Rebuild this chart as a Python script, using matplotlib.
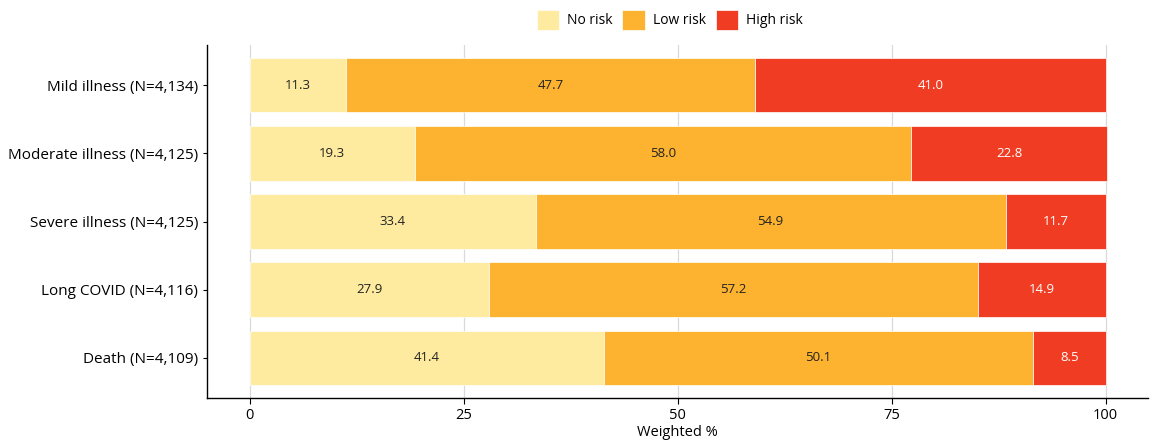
import matplotlib.pyplot as plt
import numpy as np

categories = ["Mild illness (N=4,134)", "Moderate illness (N=4,125)",
              "Severe illness (N=4,125)", "Long COVID (N=4,116)", "Death (N=4,109)"]
no_risk = [11.3, 19.3, 33.4, 27.9, 41.4]
low_risk = [47.7, 58.0, 54.9, 57.2, 50.1]
high_risk = [41.0, 22.8, 11.7, 14.9, 8.5]
series_names = ["No risk", "Low risk", "High risk"]
colors = ["#FEEB9F", "#FDB32F", "#F03C22"]
text_colors = ["#222222", "#222222", "white"]

plt.rcParams["font.family"] = ["Open Sans", "DejaVu Sans"]

fig = plt.figure(figsize=(11.51, 4.44), dpi=100)
ax = fig.add_axes([0.1798, 0.1036, 0.818, 0.795])

y = np.arange(len(categories))
left = np.zeros(len(categories))
for vals, name, c, tc in zip([no_risk, low_risk, high_risk], series_names, colors, text_colors):
    vals = np.array(vals)
    ax.barh(y, vals, left=left, height=0.8, color=c, label=name,
            edgecolor="white", linewidth=0.5, zorder=2)
    for yi, l, v in zip(y, left, vals):
        ax.text(l + v / 2, yi, f"{v:.1f}", ha="center", va="center",
                color=tc, fontsize=9.5, zorder=3)
    left += vals

ax.set_yticks(y)
ax.set_yticklabels(categories, fontsize=11)
ax.set_ylim(len(categories) - 0.41, -0.59)
ax.set_xlim(-5, 105)
ax.set_xticks([0, 25, 50, 75, 100])
ax.tick_params(axis="x", labelsize=10.5, length=4, width=0.8)
ax.tick_params(axis="y", length=3, width=0.8)
ax.set_xlabel("Weighted %", fontsize=10.5, labelpad=1)
ax.grid(axis="x", color="#d9d9d9", lw=0.9, zorder=0)
ax.set_axisbelow(True)
for s in ["top", "right"]:
    ax.spines[s].set_visible(False)
for s in ["left", "bottom"]:
    ax.spines[s].set_linewidth(1.0)
    ax.spines[s].set_color("black")

fig.legend(loc="center", bbox_to_anchor=(0.582, 0.955), ncol=3, frameon=False,
           fontsize=10, handlelength=1.6, handleheight=1.8, columnspacing=0.7,
           handletextpad=0.6)

fig.savefig("out.png", dpi=100)
